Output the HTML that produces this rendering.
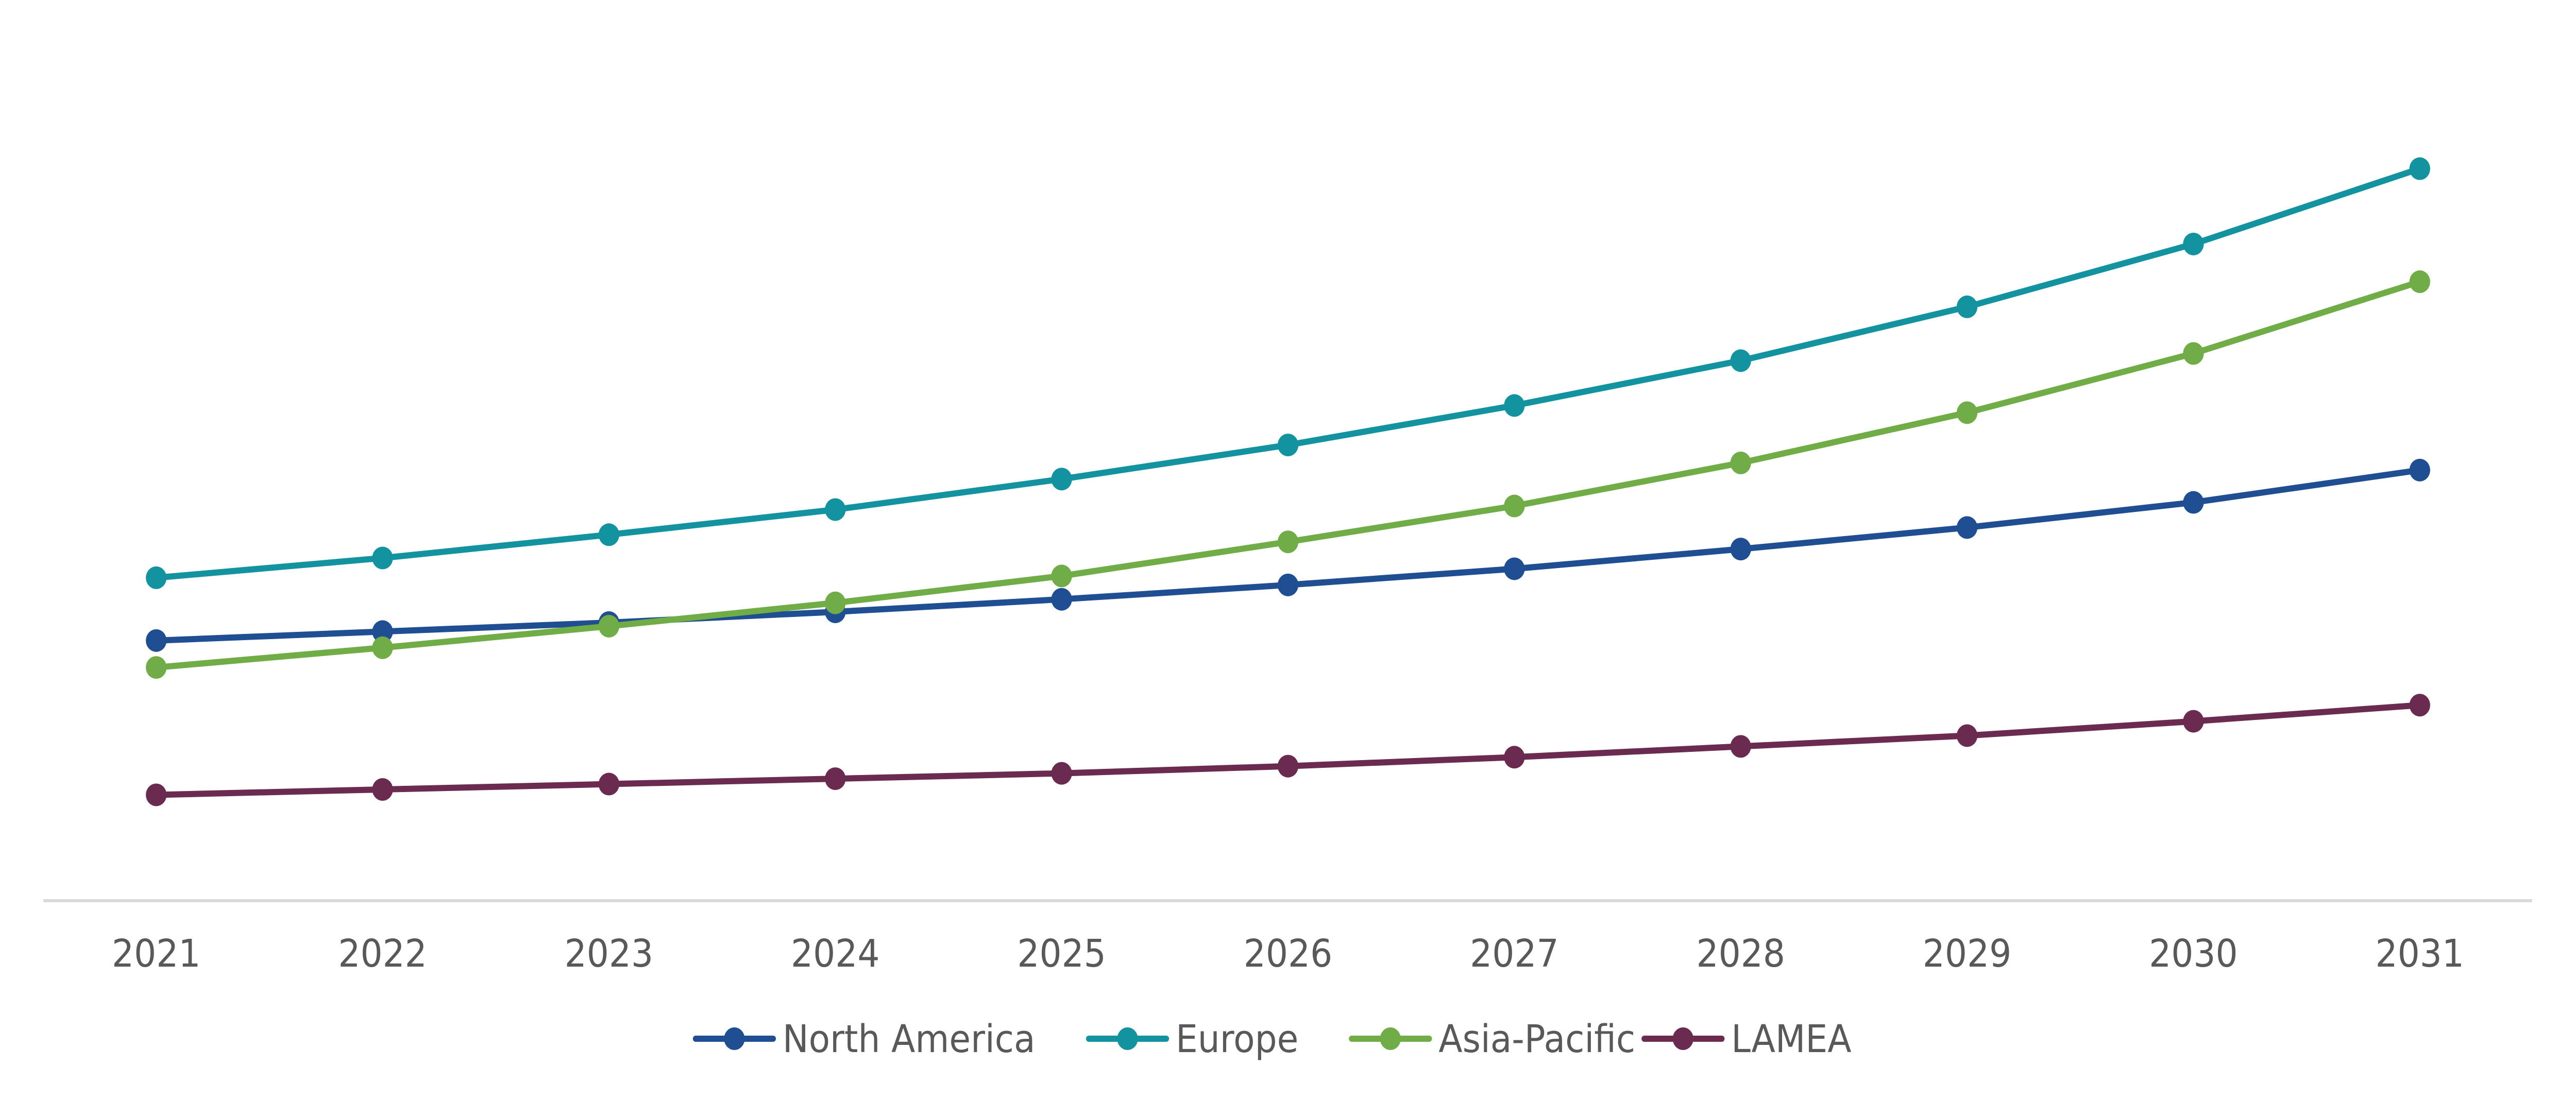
<!DOCTYPE html>
<html><head><meta charset="utf-8"><style>
html,body{margin:0;padding:0;background:#fff;overflow:hidden;width:100%;height:100%;}
svg{display:block;width:100vw;height:100vh;}
text{font-family:"DejaVu Sans","Liberation Sans",sans-serif;fill:#595959;}
</style></head><body>
<svg id="chart" viewBox="0 0 5458 2136" preserveAspectRatio="none" xmlns="http://www.w3.org/2000/svg"></svg>
<script>
const categories = ["2021","2022","2023","2024","2025","2026","2027","2028","2029","2030","2031"];
const seriesNames = ["North America","Europe","Asia-Pacific","LAMEA"];
const northAmerica = [145,150,155,161,168,176,185,196,208,222,240];
const europe = [180,191,204,218,235,254,276,301,331,366,408];
const asiaPacific = [130,141,153,166,181,200,220,244,272,305,345];
const lamea = [59,62,65,68,71,75,80,86,92,100,109];
const seriesValues = [northAmerica, europe, asiaPacific, lamea];
const colors = ["#1F4E93","#1393A0","#70AD47","#6B2A50"];

const NS = "http://www.w3.org/2000/svg";
const svg = document.getElementById("chart");
const x0 = 331, x1 = 5127, baseY = 1749, yk = 3.484;
function xScale(i){ return x0 + i*(x1-x0)/(categories.length-1); }
function yScale(v){ return baseY - v*yk; }
function mk(tag, attrs){ const e=document.createElementNS(NS,tag); for(const k in attrs) e.setAttribute(k,attrs[k]); svg.appendChild(e); return e; }

const axis = mk("line",{x1:92,x2:5365,y1:baseY,y2:baseY,stroke:"#D9D9D9","stroke-width":6});



categories.forEach((c,i)=>{
  const t = mk("text",{x:xScale(i),y:1877,"text-anchor":"middle","font-size":74});
  t.textContent = c;
  
  
});

seriesValues.forEach((vals,s)=>{
  const pts = vals.map((v,i)=>xScale(i)+","+yScale(v)).join(" ");
  const pl = mk("polyline",{points:pts,fill:"none",stroke:colors[s],"stroke-width":12,"stroke-linejoin":"round","stroke-linecap":"round"});
  
  
  vals.forEach((v,i)=>{
    const c = mk("circle",{cx:xScale(i),cy:yScale(v),r:22,fill:colors[s]});
    
    
  });
});

const legendX = [1474, 2307, 2864, 3484];
seriesNames.forEach((n,s)=>{
  const lx = legendX[s];
  const g = document.createElementNS(NS,"g");
  
  
  svg.appendChild(g);
  const l = document.createElementNS(NS,"line");
  l.setAttribute("x1",lx); l.setAttribute("x2",lx+164); l.setAttribute("y1",2017); l.setAttribute("y2",2017);
  l.setAttribute("stroke",colors[s]); l.setAttribute("stroke-width",12); l.setAttribute("stroke-linecap","round");
  g.appendChild(l);
  const c = document.createElementNS(NS,"circle");
  c.setAttribute("cx",lx+82); c.setAttribute("cy",2017); c.setAttribute("r",22); c.setAttribute("fill",colors[s]);
  g.appendChild(c);
  const t = document.createElementNS(NS,"text");
  t.setAttribute("x",lx+184); t.setAttribute("y",2043); t.setAttribute("font-size",74);
  t.textContent = n;
  g.appendChild(t);
});
</script>
</body></html>
